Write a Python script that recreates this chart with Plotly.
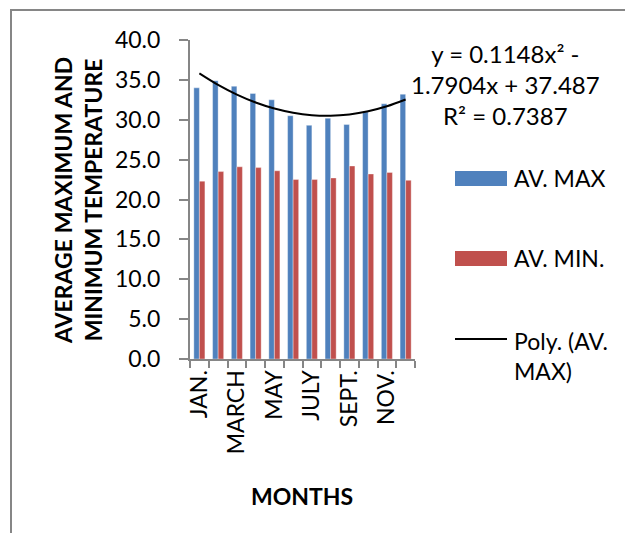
import plotly.graph_objects as go

# Monthly temperature data
months = ["JAN.", "FEB.", "MARCH", "APRIL", "MAY", "JUNE",
          "JULY", "AUG.", "SEPT.", "OCT.", "NOV.", "DEC."]
month_labels = ["JAN.", "", "MARCH", "", "MAY", "",
                "JULY", "", "SEPT.", "", "NOV.", ""]
av_max = [34.0, 34.9, 34.2, 33.3, 32.5, 30.5, 29.3, 30.2, 29.4, 31.0, 32.0, 33.2]
av_min = [22.3, 23.5, 24.1, 24.0, 23.6, 22.5, 22.5, 22.7, 24.2, 23.2, 23.4, 22.4]

# Polynomial trendline coefficients (order 2) for AV. MAX
poly_a, poly_b, poly_c = 0.1148, -1.7904, 37.487
poly_r2 = 0.7387
trend = [poly_a * x ** 2 + poly_b * x + poly_c for x in range(1, len(months) + 1)]

BLUE = "#4F81BD"
RED = "#C0504D"
GREY = "#868686"
FONT = "Lato"

W, H = 625, 533
L, R, T, B = 190, 210, 40, 174


def px_x(px):
    return (px - L) / (W - L - R)


def px_y(py):
    return (H - B - py) / (H - B - T)


fig = go.Figure()
fig.add_trace(go.Bar(x=months, y=av_max, name="AV. MAX", marker_color=BLUE,
                     marker_line=dict(width=0.8, color="rgba(255,255,255,0.45)")))
fig.add_trace(go.Bar(x=months, y=av_min, name="AV. MIN.", marker_color=RED,
                     marker_line=dict(width=0.8, color="rgba(255,255,255,0.45)")))
fig.add_trace(go.Scatter(x=months, y=trend, mode="lines", name="Poly. (AV. MAX)",
                         line=dict(color="black", width=2, shape="spline")))

annotations = [
    # axis titles
    dict(text="<b>AVERAGE MAXIMUM AND<br>MINIMUM TEMPERATURE</b>", textangle=-90,
         x=px_x(78), y=px_y(201), xanchor="center", yanchor="middle",
         font=dict(size=23)),
    dict(text="<b>MONTHS</b>", x=px_x(302), y=px_y(496),
         xanchor="center", yanchor="middle", font=dict(size=23)),
    # trendline equation
    dict(text=f"y = {poly_a}x² -<br>{abs(poly_b)}x + {poly_c}<br>R² = {poly_r2}",
         x=px_x(505), y=px_y(84), xanchor="center", yanchor="middle",
         font=dict(size=24)),
    # legend labels
    dict(text="AV. MAX", x=px_x(512), y=px_y(178), xanchor="left", yanchor="middle",
         font=dict(size=23)),
    dict(text="AV. MIN.", x=px_x(512), y=px_y(258), xanchor="left", yanchor="middle",
         font=dict(size=23)),
    dict(text="Poly. (AV.<br>MAX)", x=px_x(512), y=px_y(356), xanchor="left",
         yanchor="middle", align="left", font=dict(size=23)),
]
for a in annotations:
    a.update(xref="paper", yref="paper", showarrow=False)
    a["font"].update(family=FONT, color="black")

shapes = [
    # outer chart frame
    dict(type="rect", x0=px_x(11), y0=px_y(10), x1=px_x(700), y1=px_y(600),
         line=dict(color=GREY, width=2), fillcolor="rgba(0,0,0,0)"),
    # legend keys
    dict(type="rect", x0=px_x(455), x1=px_x(507), y0=px_y(186), y1=px_y(171),
         fillcolor=BLUE, line_width=0),
    dict(type="rect", x0=px_x(455), x1=px_x(507), y0=px_y(266), y1=px_y(251),
         fillcolor=RED, line_width=0),
    dict(type="line", x0=px_x(455), x1=px_x(507), y0=px_y(339), y1=px_y(339),
         line=dict(color="black", width=2)),
]
for s in shapes:
    s.update(xref="paper", yref="paper")

fig.update_layout(
    width=W, height=H,
    margin=dict(l=L, r=R, t=T, b=B, pad=0),
    paper_bgcolor="white", plot_bgcolor="white",
    barmode="group", bargap=0.41, bargroupgap=0,
    showlegend=False,
    font=dict(family=FONT, size=23, color="black"),
    annotations=annotations,
    shapes=shapes,
)
fig.update_xaxes(
    type="category", tickmode="array", tickvals=months, ticktext=month_labels,
    tickangle=-90, tickson="boundaries", ticks="outside", ticklen=7, tickwidth=2,
    tickcolor=GREY, showline=True, linecolor=GREY, linewidth=2, showgrid=False,
    tickfont=dict(family=FONT, size=23, color="black"),
)
fig.update_yaxes(
    range=[0, 40], dtick=5, tickformat=".1f", ticks="outside", ticklen=9,
    tickwidth=2, tickcolor=GREY, showline=True, linecolor=GREY, linewidth=2,
    showgrid=False, zeroline=False, ticklabelstandoff=14,
    tickfont=dict(family=FONT, size=23, color="black"),
)

fig.write_html("out.html")
